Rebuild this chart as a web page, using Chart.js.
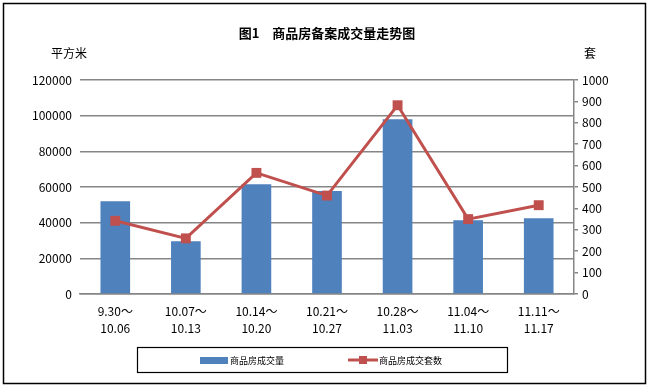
<!DOCTYPE html>
<html>
<head>
<meta charset="utf-8">
<script src="https://cdn.jsdelivr.net/npm/chart.js@4"></script>
<style>
  html, body { margin: 0; padding: 0; background: #fff; }
  #wrap { width: 651px; height: 390px; position: relative; }
</style>
</head>
<body>
<div id="wrap"><canvas id="chart" width="651" height="390"></canvas></div>
<script>
// ── DATA ───────────────────────────────────────────────────────
const weeks = [
  ['9.30～', '10.06'],
  ['10.07～', '10.13'],
  ['10.14～', '10.20'],
  ['10.21～', '10.27'],
  ['10.28～', '11.03'],
  ['11.04～', '11.10'],
  ['11.11～', '11.17'],
];
const areaSold = [52000, 29600, 61600, 57700, 98000, 41400, 42500];   // 平方米
const unitsSold = [342, 260, 566, 460, 882, 350, 415];                 // 套

const titleText = '图1　商品房备案成交量走势图';
const leftUnit = '平方米';
const rightUnit = '套';
const barLabel = '商品房成交量';
const lineLabel = '商品房成交套数';

const BLUE = '#4F81BD';
const RED = '#C0504D';
const GRID = '#868686';
const CJK = "SimSun, 'Noto Sans CJK SC', sans-serif";

// ── FRAME, TITLE, UNITS, LEGEND ────────────────────────────────
const framePlugin = {
  id: 'frame',
  afterDraw(chart) {
    const ctx = chart.ctx;
    ctx.save();
    // outer border
    ctx.strokeStyle = '#000';
    ctx.lineWidth = 1.5;
    ctx.strokeRect(3.5, 3.5, 642, 380);

    // title
    ctx.fillStyle = '#000';
    ctx.textAlign = 'center';
    ctx.textBaseline = 'middle';
    ctx.font = `bold 13px ${CJK}`;
    ctx.fillText(titleText, 327, 33);

    // axis units
    ctx.font = `12px ${CJK}`;
    ctx.fillText(leftUnit, 69, 53);
    ctx.fillText(rightUnit, 590, 53);

    // legend box
    ctx.lineWidth = 1.2;
    ctx.strokeRect(137.5, 347.5, 370, 25);
    const ly = 360;
    ctx.fillStyle = BLUE;
    ctx.fillRect(200, ly - 3, 28, 7);
    ctx.strokeStyle = RED;
    ctx.lineWidth = 3;
    ctx.beginPath();
    ctx.moveTo(348, ly);
    ctx.lineTo(378, ly);
    ctx.stroke();
    ctx.fillStyle = RED;
    ctx.fillRect(359, ly - 4, 8, 8);

    ctx.fillStyle = '#000';
    ctx.textAlign = 'left';
    ctx.font = `9px ${CJK}`;
    ctx.fillText(barLabel, 230, ly + 1);
    ctx.fillText(lineLabel, 379, ly + 1);
    ctx.restore();
  }
};

new Chart(document.getElementById('chart'), {
  type: 'bar',
  data: {
    labels: weeks,
    datasets: [
      {
        type: 'line',
        label: lineLabel,
        data: unitsSold,
        yAxisID: 'y1',
        order: 0,
        borderColor: RED,
        borderWidth: 3,
        pointStyle: 'rect',
        pointRadius: 7,
        pointBackgroundColor: RED,
        pointBorderColor: RED,
        pointBorderWidth: 0,
        tension: 0,
      },
      {
        type: 'bar',
        label: barLabel,
        data: areaSold,
        yAxisID: 'y',
        order: 1,
        backgroundColor: BLUE,
        barPercentage: 0.42,
        categoryPercentage: 1,
      },
    ],
  },
  options: {
    responsive: false,
    animation: false,
    devicePixelRatio: 1,
    layout: { padding: { top: 80, left: 0, right: 0, bottom: 0 } },
    plugins: {
      legend: { display: false },
      title: { display: false },
      tooltip: { enabled: false },
    },
    scales: {
      x: {
        grid: { display: false, drawTicks: false },
        border: { display: true, color: GRID, width: 1.5 },
        ticks: {
          color: '#000',
          padding: 9,
          maxRotation: 0,
          autoSkip: false,
          font: { family: CJK, size: 12, lineHeight: 1.4 },
        },
        afterFit: s => { s.height = 96; },
      },
      y: {
        position: 'left',
        min: 0,
        max: 120000,
        grid: { color: GRID, lineWidth: 1.5, drawTicks: false },
        border: { display: false },
        ticks: {
          stepSize: 20000,
          color: '#000',
          padding: 8,
          font: { family: CJK, size: 12 },
          callback: v => String(v),
        },
        afterFit: s => { s.width = 80; },
      },
      y1: {
        position: 'right',
        min: 0,
        max: 1000,
        grid: { drawOnChartArea: false, color: GRID, lineWidth: 1.5, tickLength: 4 },
        border: { display: true, color: GRID, width: 1.5 },
        ticks: {
          stepSize: 100,
          color: '#000',
          padding: 4,
          font: { family: CJK, size: 12 },
          callback: v => String(v),
        },
        afterFit: s => { s.width = 77; },
      },
    },
  },
  plugins: [framePlugin],
});
</script>
</body>
</html>
